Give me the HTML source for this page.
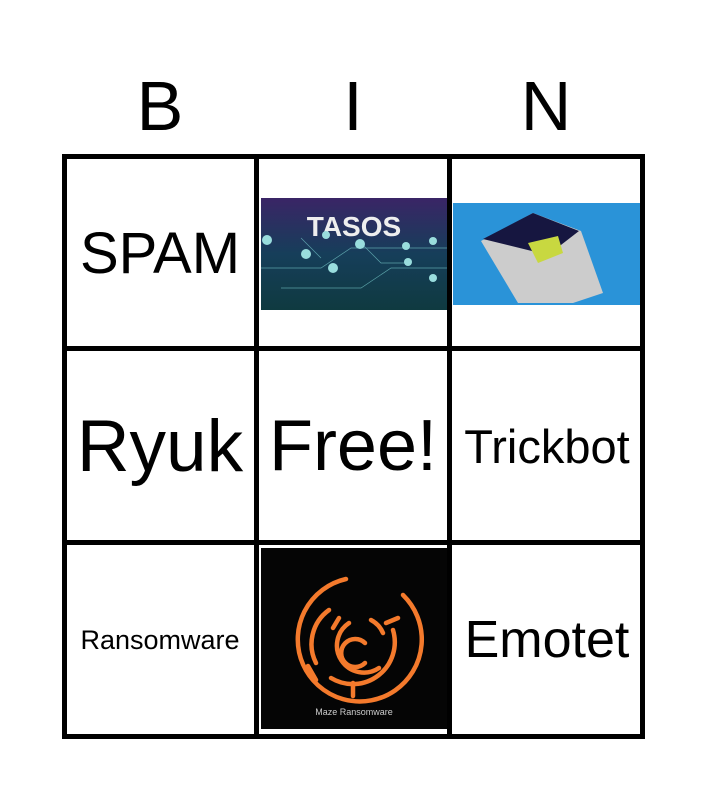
<!DOCTYPE html>
<html><head><style>
body{margin:0;width:707px;height:800px;background:#fff;position:relative;overflow:hidden;font-family:"Liberation Sans",sans-serif}
.a{position:absolute}
.h{position:absolute;top:66px;font-size:70px;width:194px;text-align:center}
.l{position:absolute;background:#000}
.t{position:absolute;display:flex;align-items:center;justify-content:center;width:190px;height:190px;color:#000;white-space:nowrap}
</style></head><body>
<div class="h" style="left:63px">B</div>
<div class="h" style="left:256px">I</div>
<div class="h" style="left:449px">N</div>
<div class="l" style="left:62px;top:154px;width:583px;height:5px"></div>
<div class="l" style="left:62px;top:346px;width:583px;height:5px"></div>
<div class="l" style="left:62px;top:540px;width:583px;height:5px"></div>
<div class="l" style="left:62px;top:734px;width:583px;height:5px"></div>
<div class="l" style="left:62px;top:154px;width:5px;height:585px"></div>
<div class="l" style="left:254px;top:154px;width:5px;height:585px"></div>
<div class="l" style="left:447px;top:154px;width:5px;height:585px"></div>
<div class="l" style="left:640px;top:154px;width:5px;height:585px"></div>

<div class="t" style="left:65px;top:158px;font-size:58px">SPAM</div>
<div class="t" style="left:65px;top:351px;font-size:73px">Ryuk</div>
<div class="t" style="left:258px;top:351px;font-size:72px">Free!</div>
<div class="t" style="left:452px;top:351px;font-size:47px">Trickbot</div>
<div class="t" style="left:65px;top:545px;font-size:27px">Ransomware</div>
<div class="t" style="left:452px;top:545px;font-size:52px">Emotet</div>

<svg class="a" style="left:261px;top:198px" width="186" height="112">
<defs><linearGradient id="g" x1="0" y1="0" x2="0" y2="1"><stop offset="0" stop-color="#3a2566"/><stop offset=".5" stop-color="#163e5a"/><stop offset="1" stop-color="#0f3a40"/></linearGradient></defs>
<rect width="186" height="112" fill="url(#g)"/>
<text x="93" y="38" font-size="28" font-weight="bold" fill="#eee" text-anchor="middle" font-family="Liberation Sans">TASOS</text>
<g stroke="#7cc" stroke-width="0.7" fill="none" opacity=".7"><path d="M0 70H60L90 50H186M20 90H100L130 70H186M60 60L40 40M100 45L120 65H150"/></g>
<g fill="#9dd"><circle cx="6" cy="42" r="5"/><circle cx="65" cy="37" r="4"/><circle cx="99" cy="46" r="5"/><circle cx="45" cy="56" r="5"/><circle cx="72" cy="70" r="5"/><circle cx="145" cy="48" r="4"/><circle cx="172" cy="43" r="4"/><circle cx="147" cy="64" r="4"/><circle cx="172" cy="80" r="4"/></g>
</svg>

<svg class="a" style="left:453px;top:203px" width="187" height="102">
<rect width="187" height="102" fill="#2a93d8"/>
<path d="M28 38L80 10L128 28L150 90L120 100H65Z" fill="#ccc"/>
<path d="M30 36L80 10L126 28L95 52Z" fill="#161640"/>
<path d="M75 40L105 33L110 50L85 60Z" fill="#c8d840"/>
</svg>

<svg class="a" style="left:261px;top:548px" width="186" height="181">
<rect width="186" height="181" fill="#050505"/>
<g fill="none" stroke="#f47a2c" stroke-width="4.5" stroke-linecap="round">
<path d="M85 31A62 62 0 1 0 142 47"/>
<path d="M68 62A42 42 0 0 0 55 115M70 130A42 42 0 0 0 132 82"/>
<path d="M88 75A26 26 0 1 0 118 120M110 72A26 26 0 0 1 122 85"/>
<path d="M104 95A14 14 0 1 0 104 115"/>
<path d="M47 118L55 132M92 135V148M125 75L137 70M78 70L72 80"/>
</g>
<text x="93" y="167" font-size="9" fill="#ccc" text-anchor="middle" font-family="Liberation Sans">Maze Ransomware</text>
</svg>
</body></html>
